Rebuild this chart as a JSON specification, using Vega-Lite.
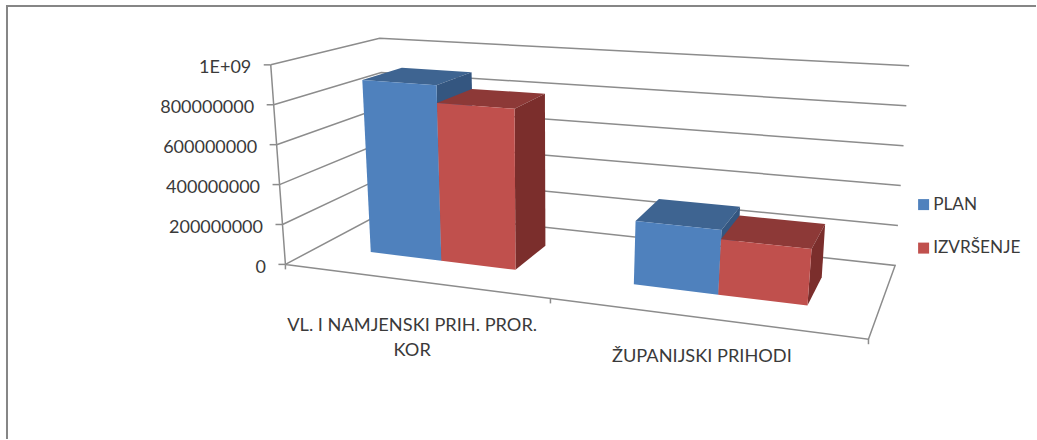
{
"$schema":"https://vega.github.io/schema/vega-lite/v6.json",
"width":1037,"height":440,"padding":0,
"autosize":{"type":"fit","contains":"padding"},
"background":"#ffffff",
"config":{"view":{"stroke":null}},
"datasets":{
"bars":[
{"category":"VL. I NAMJENSKI PRIH. PROR. KOR","series":"PLAN","value":892000000},
{"category":"VL. I NAMJENSKI PRIH. PROR. KOR","series":"IZVRŠENJE","value":802000000},
{"category":"ŽUPANIJSKI PRIHODI","series":"PLAN","value":305000000},
{"category":"ŽUPANIJSKI PRIHODI","series":"IZVRŠENJE","value":261000000}],
"ticks":[
{"value":0,"label":"0"},
{"value":200000000,"label":"200000000"},
{"value":400000000,"label":"400000000"},
{"value":600000000,"label":"600000000"},
{"value":800000000,"label":"800000000"},
{"value":1000000000,"label":"1E+09"}],
"cats":[
{"index":0,"label":"VL. I NAMJENSKI PRIH. PROR.\nKOR"},
{"index":1,"label":"ŽUPANIJSKI PRIHODI"}],
"bounds":[{"boundary":0},{"boundary":1},{"boundary":2}]
},
"layer":[
{"data":{"values":[{"edge":"left"}]},"mark":{"type":"rule","color":"#868686","strokeWidth":2},
 "encoding":{"x":{"datum":7,"type":"quantitative","scale":{"domain":[0,1037],"nice":false,"zero":false},"axis":null},"y":{"datum":5,"type":"quantitative","scale":{"domain":[440,0],"nice":false,"zero":false},"axis":null},"y2":{"datum":440}}},
{"data":{"values":[{"edge":"top"}]},"mark":{"type":"rule","color":"#868686","strokeWidth":2},
 "encoding":{"x":{"datum":6,"type":"quantitative"},"x2":{"datum":1037},"y":{"datum":6,"type":"quantitative"}}},
{"data":{"name":"ticks"},
 "transform":[
 {"calculate":"datum.value===0?[[0,0,0],[0,1,1],[1,1,2],[1,0,3],[0,0,4]]:[[0,0,0],[0,1,1],[1,1,2]]","as":"pts"},
 {"flatten":["pts"],"as":["p"]},
 {"calculate":"datum.p[0]","as":"U"},{"calculate":"datum.p[1]","as":"W"},{"calculate":"datum.value/1e9","as":"V"},{"calculate":"datum.p[2]","as":"step"},
 {"calculate":"(1-datum.V)*((1-datum.W)*(285.7+datum.U*583.6)+datum.W*(388+datum.U*508))+datum.V*((1-datum.W)*(271+datum.U*621)+datum.W*(380+datum.U*530))","as":"sx"},
 {"calculate":"(1-datum.V)*((1-datum.W)*(265+datum.U*75)+datum.W*(210.5+datum.U*55.5))+datum.V*((1-datum.W)*(65+datum.U*43)+datum.W*(38.3+datum.U*27.7))","as":"sy"}],
 "mark":{"type":"line","color":"#8c8c8c","strokeWidth":1.5},
 "encoding":{"x":{"field":"sx","type":"quantitative"},"y":{"field":"sy","type":"quantitative"},"detail":{"field":"value"},"order":{"field":"step"}}},
{"data":{"name":"ticks"},
 "transform":[
 {"calculate":"285.7+(271-285.7)*datum.value/1e9","as":"sx"},
 {"calculate":"265+(65-265)*datum.value/1e9","as":"sy"},
 {"calculate":"datum.sx-7","as":"sx2"},
 {"calculate":"datum.sx-19.5","as":"lx"},
 {"calculate":"datum.sy+3.5","as":"ly"}],
 "layer":[
 {"mark":{"type":"line","color":"#8c8c8c","strokeWidth":1.5},
  "encoding":{"x":{"field":"sx","type":"quantitative"},"y":{"field":"sy","type":"quantitative"},"order":{"field":"value"}}},
 {"mark":{"type":"rule","color":"#8c8c8c","strokeWidth":1.5},
  "encoding":{"x":{"field":"sx","type":"quantitative"},"x2":{"field":"sx2"},"y":{"field":"sy","type":"quantitative"}}},
 {"mark":{"type":"text","align":"right","baseline":"middle","font":"Lato","fontSize":18,"color":"#3a3a3a"},
  "encoding":{"x":{"field":"lx","type":"quantitative"},"y":{"field":"ly","type":"quantitative"},"text":{"field":"label"}}}
 ]},
{"data":{"name":"bounds"},
 "transform":[
 {"calculate":"datum.boundary/2","as":"t"},
 {"calculate":"datum.t/(datum.t+1.2*(1-datum.t))","as":"U"},
 {"calculate":"285.7+datum.U*583.6","as":"sx"},
 {"calculate":"265+datum.U*75","as":"sy"},
 {"calculate":"datum.sy+5","as":"sy2"}],
 "mark":{"type":"rule","color":"#8c8c8c","strokeWidth":1.5},
 "encoding":{"x":{"field":"sx","type":"quantitative"},"y":{"field":"sy","type":"quantitative"},"y2":{"field":"sy2"}}},
{"data":{"name":"cats"},
 "transform":[
 {"calculate":"(datum.index+0.5)/2","as":"t"},
 {"calculate":"datum.t/(datum.t+1.2*(1-datum.t))","as":"U"},
 {"calculate":"285.7+datum.U*583.6","as":"sx"},
 {"calculate":"265+datum.U*75+(datum.index===0?50.7:44.7)","as":"sy"}],
 "mark":{"type":"text","align":"center","baseline":"alphabetic","font":"Lato","fontSize":18.2,"color":"#3a3a3a","lineBreak":"\n","lineHeight":25},
 "encoding":{"x":{"field":"sx","type":"quantitative"},"y":{"field":"sy","type":"quantitative"},"text":{"field":"label"}}},
{"data":{"name":"bars"},
 "transform":[
 {"calculate":"datum.category==='ŽUPANIJSKI PRIHODI'?1:0","as":"c"},
 {"calculate":"datum.series==='PLAN'?0:1","as":"s"},
 {"calculate":"(datum.c+0.5)/2+(datum.s-1)*0.143","as":"t0"},
 {"calculate":"datum.t0+0.143","as":"t1"},
 {"calculate":"datum.t0/(datum.t0+1.2*(1-datum.t0))","as":"U0"},
 {"calculate":"datum.t1/(datum.t1+1.2*(1-datum.t1))","as":"U1"},
 {"calculate":"[['top',0,0,1,0],['top',1,0,1,1],['top',1,1,1,2],['top',0,1,1,3],['side',1,0,0,0],['side',1,1,0,1],['side',1,1,1,2],['side',1,0,1,3],['front',0,0,0,0],['front',1,0,0,1],['front',1,0,1,2],['front',0,0,1,3]]","as":"pts"},
 {"flatten":["pts"],"as":["p"]},
 {"calculate":"datum.p[0]==='front'?datum.series:datum.series+'|'+datum.p[0]","as":"shade"},
 {"calculate":"datum.category+'|'+datum.series+'|'+datum.p[0]","as":"faceId"},
 {"calculate":"datum.p[1]===0?datum.U0:datum.U1","as":"U"},
 {"calculate":"datum.p[2]===0?0.34:0.735","as":"W"},
 {"calculate":"datum.p[3]*datum.value/1e9","as":"V"},
 {"calculate":"datum.p[4]","as":"step"},
 {"calculate":"(1-datum.V)*((1-datum.W)*(285.7+datum.U*583.6)+datum.W*(388+datum.U*508))+datum.V*((1-datum.W)*(271+datum.U*621)+datum.W*(380+datum.U*530))","as":"sx"},
 {"calculate":"(1-datum.V)*((1-datum.W)*(265+datum.U*75)+datum.W*(210.5+datum.U*55.5))+datum.V*((1-datum.W)*(65+datum.U*43)+datum.W*(38.3+datum.U*27.7))","as":"sy"}],
 "mark":{"type":"line","interpolate":"linear-closed","strokeWidth":0},
 "encoding":{
  "x":{"field":"sx","type":"quantitative"},
  "y":{"field":"sy","type":"quantitative"},
  "detail":{"field":"faceId"},
  "order":{"field":"step"},
  "fill":{"field":"shade","type":"nominal",
   "scale":{"domain":["PLAN","IZVRŠENJE","PLAN|top","PLAN|side","IZVRŠENJE|top","IZVRŠENJE|side"],"range":["#4f81bd","#c0504d","#3e6491","#345680","#8d3937","#7b2e2c"]},
   "legend":{"values":["PLAN","IZVRŠENJE"],"title":null,"orient":"none","legendX":915,"legendY":196,"symbolType":"square","symbolSize":121,"symbolStrokeWidth":0,"labelFont":"Lato","labelFontSize":17.2,"labelColor":"#3a3a3a","labelOffset":1,"rowPadding":25.5}}
 }}
]
}
